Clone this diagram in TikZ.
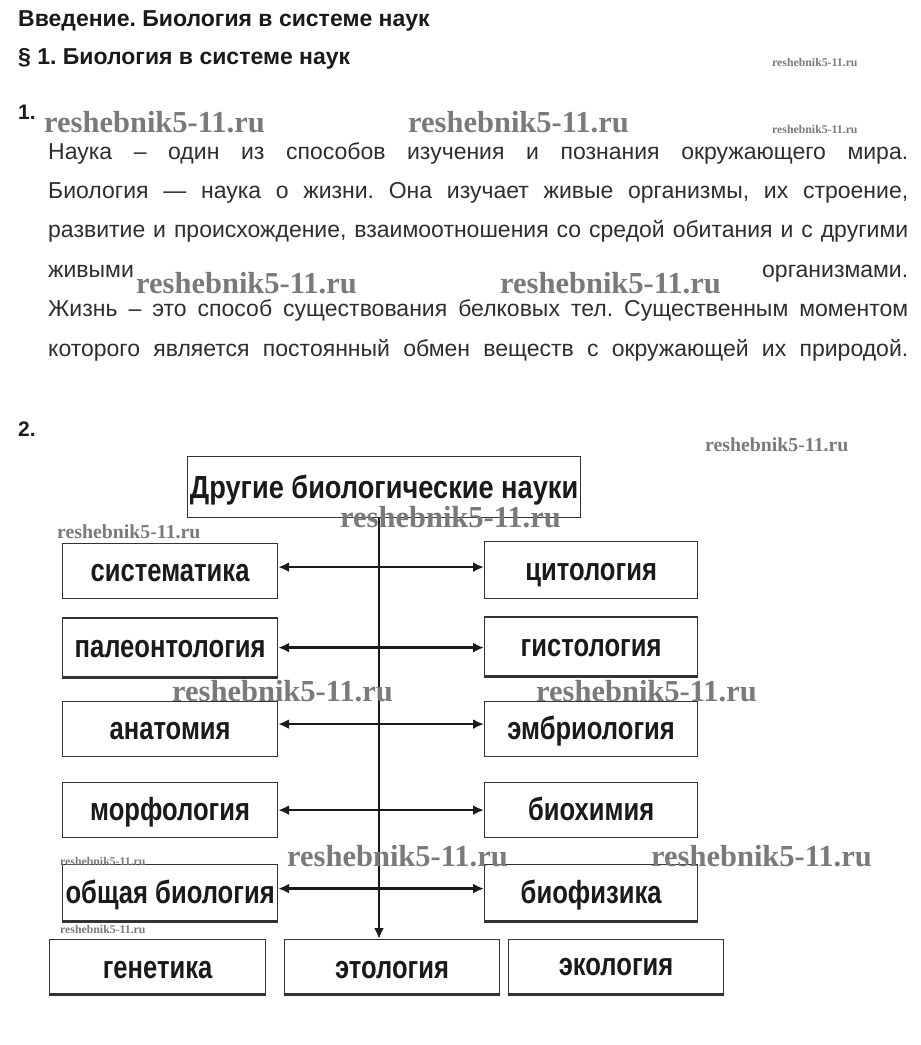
\documentclass[tikz,border=0pt]{standalone}
\usepackage{fontspec}
\setmainfont{Liberation Sans}
\newfontfamily\boxfont[FakeStretch=0.8]{Liberation Sans}
\newfontfamily\topfont[FakeStretch=0.85]{Liberation Sans}
\newfontfamily\wmfont{Liberation Serif}
\usetikzlibrary{arrows.meta}
\definecolor{ink}{HTML}{1A1A1A}
\definecolor{bodyink}{HTML}{2E2E2E}
\definecolor{edge}{HTML}{333333}
\definecolor{wm}{HTML}{7A7A7A}
\tikzset{
  body/.style={anchor=base west, inner sep=0pt, text=bodyink, font=\fontsize{23}{27}\selectfont},
  head/.style={anchor=base west, inner sep=0pt, text=ink, font=\bfseries\fontsize{23}{27}\selectfont},
  num/.style={anchor=base west, inner sep=0pt, text=ink, font=\bfseries\fontsize{21}{25}\selectfont},
  box/.style={draw=edge, line width=1.2pt, inner sep=0pt, anchor=north west, text=ink,
    text height=20pt, text depth=0pt,
    font=\boxfont\bfseries\fontsize{32}{34}\selectfont},
  lowbox/.style={box, text height=24pt},
  topbox/.style={draw=edge, line width=1.2pt, inner sep=0pt, anchor=north west, text=ink,
    text height=23pt, text depth=0pt,
    font=\topfont\bfseries\fontsize{32}{34}\selectfont},
  heavy/.style={draw=edge, line width=2.6pt},
  dbl/.style={{Latex[length=11pt,width=10pt]}-{Latex[length=11pt,width=10pt]}, line width=2.6pt, draw=ink},
  down/.style={-{Latex[length=11pt,width=10pt]}, line width=2.2pt, draw=ink},
  wmL/.style={anchor=base west, inner sep=0pt, text=wm, font=\wmfont\bfseries\fontsize{30.5}{32}\selectfont},
  wmM/.style={anchor=base west, inner sep=0pt, text=wm, font=\wmfont\bfseries\fontsize{19.8}{22}\selectfont},
  wmS/.style={anchor=base west, inner sep=0pt, text=wm, font=\wmfont\bfseries\fontsize{11.8}{13}\selectfont},
}
\begin{document}
\frenchspacing
\begin{tikzpicture}[x=1pt,y=-1pt]
\useasboundingbox (0,0) rectangle (921,1045);
\fill[white] (0,0) rectangle (921,1045);

% headings
\node[head] (h1) at (18,26) {Введение. Биология в системе наук};
\node[head] (h2) at (18,64) {§ 1. Биология в системе наук};
\node[num] (n1) at (18,119) {1.};
\node[num] (n2) at (18,436) {2.};

% paragraph
\node[body] (l1) at (48,159) {\makebox[860pt][s]{Наука – один из способов изучения и познания окружающего мира.}};
\node[body] (l2) at (48,198.4) {\makebox[860pt][s]{Биология — наука о жизни. Она изучает живые организмы, их строение,}};
\node[body] (l3) at (48,237.8) {\makebox[860pt][s]{развитие и происхождение, взаимоотношения со средой обитания и с другими}};
\node[body] (l4) at (48,277.2) {\makebox[860pt][s]{живыми организмами.}};
\node[body] (l5) at (48,316.6) {\makebox[860pt][s]{Жизнь – это способ существования белковых тел. Существенным моментом}};
\node[body] (l6) at (48,356) {\makebox[860pt][s]{которого является постоянный обмен веществ с окружающей их природой.}};

% diagram boxes
\node[topbox, minimum width=393pt, minimum height=61pt] (top) at (187,456) {Другие биологические науки};

\node[box, minimum width=215pt, minimum height=55pt] (sis) at (62,543) {систематика};
\node[box, minimum width=215pt, minimum height=58pt] (pal) at (62,618) {палеонтология};
\node[box, minimum width=215pt, minimum height=55pt] (ana) at (62,701) {анатомия};
\node[box, minimum width=215pt, minimum height=55pt] (mor) at (62,782) {морфология};
\node[box, minimum width=215pt, minimum height=56pt, text height=22pt] (obs) at (62,864) {общая биология};

\node[box, minimum width=213pt, minimum height=57pt] (cyt) at (484,541) {цитология};
\node[box, minimum width=213pt, minimum height=58pt] (gis) at (484,617) {гистология};
\node[box, minimum width=213pt, minimum height=55pt] (emb) at (484,701) {эмбриология};
\node[box, minimum width=213pt, minimum height=55pt] (bch) at (484,782) {биохимия};
\node[box, minimum width=213pt, minimum height=56pt, text height=22pt] (bph) at (484,864) {биофизика};

\node[lowbox, minimum width=216pt, minimum height=54pt] (gen) at (49,939) {генетика};
\node[lowbox, minimum width=215pt, minimum height=54pt] (eto) at (284,939) {этология};
\node[box, minimum width=215pt, minimum height=54pt, text height=18pt] (eko) at (508,939) {экология\hspace{36pt}};

% heavier edges
\draw[heavy] (pal.north west) -- (pal.north east);
\draw[heavy] (pal.south west) -- (pal.south east);
\draw[heavy] (gis.north west) -- (gis.north east);
\draw[heavy] (gis.south west) -- (gis.south east);
\draw[heavy] (obs.south west) -- (obs.south east);
\draw[heavy] (bph.south west) -- (bph.south east);
\draw[heavy] (gen.south west) -- (gen.south east);
\draw[heavy] (eto.south west) -- (eto.south east);
\draw[heavy] (eko.south west) -- (eko.south east);

% connectors
\coordinate (spine) at (379,0);
\draw[down] (top.south -| spine) -- (eto.north -| spine);
\draw[dbl] ([yshift=4pt]sis.east) -- ([yshift=4pt]sis.east -| cyt.west);
\draw[dbl] (pal.east) -- (pal.east -| gis.west);
\draw[dbl] ([yshift=5pt]ana.east) -- ([yshift=5pt]ana.east -| emb.west);
\draw[dbl] (mor.east) -- (mor.east -| bch.west);
\draw[dbl] ([yshift=4pt]obs.east) -- ([yshift=4pt]obs.east -| bph.west);

% watermarks
\node[wmS] (w1) at (772,66) {reshebnik5-11.ru};
\node[wmL] (w2) at (44,132) {reshebnik5-11.ru};
\node[wmL] (w3) at (408,132) {reshebnik5-11.ru};
\node[wmS] (w4) at (772,133) {reshebnik5-11.ru};
\node[wmL] (w5) at (136,293) {reshebnik5-11.ru};
\node[wmL] (w6) at (500,293) {reshebnik5-11.ru};
\node[wmM] (w7) at (705,451) {reshebnik5-11.ru};
\node[wmL] (w8) at (340,527) {reshebnik5-11.ru};
\node[wmM] (w9) at (57,538) {reshebnik5-11.ru};
\node[wmL] (w10) at (172,701) {reshebnik5-11.ru};
\node[wmL] (w11) at (536,701) {reshebnik5-11.ru};
\node[wmS] (w12) at (60,865) {reshebnik5-11.ru};
\node[wmL] (w13) at (287,866) {reshebnik5-11.ru};
\node[wmL] (w14) at (651,866) {reshebnik5-11.ru};
\node[wmS] (w15) at (60,933) {reshebnik5-11.ru};
\end{tikzpicture}
\end{document}
